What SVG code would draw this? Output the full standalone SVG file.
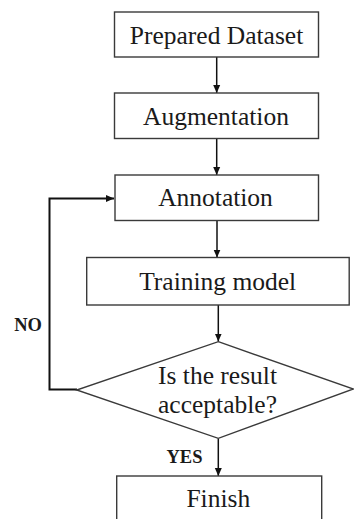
<svg xmlns="http://www.w3.org/2000/svg" width="354" height="519" viewBox="0 0 354 519">
<defs>
<style>
.box{fill:#fff;stroke:#3a3a3a;stroke-width:1.4}
.t{font-family:"Liberation Serif","Times New Roman",serif;font-size:25.5px;fill:#1a1a1a;text-anchor:middle}
.lbl{font-family:"Liberation Serif","Times New Roman",serif;font-size:18.5px;font-weight:bold;fill:#1a1a1a;text-anchor:middle}
.c{fill:none;stroke:#111;stroke-width:1.5}
.loop{fill:none;stroke:#111;stroke-width:2}
</style>
<marker id="ah" viewBox="0 0 8 8" refX="8" refY="4" markerWidth="8" markerHeight="8" markerUnits="userSpaceOnUse" orient="auto">
<path d="M0,0.5 L8,4 L0,7.5 Z" fill="#111"/>
</marker>
</defs>
<rect width="354" height="519" fill="#fff"/>
<g id="connectors">
<line class="c" x1="216.7" y1="57" x2="216.7" y2="93" marker-end="url(#ah)"/>
<line class="c" x1="216.7" y1="138.5" x2="216.7" y2="175" marker-end="url(#ah)"/>
<line class="c" x1="217" y1="220.5" x2="217" y2="257.5" marker-end="url(#ah)"/>
<line class="c" x1="218.3" y1="305" x2="218.3" y2="341.5" marker-end="url(#ah)"/>
<line class="c" x1="218.3" y1="438.5" x2="218.3" y2="476" marker-end="url(#ah)"/>
<polyline class="loop" points="77,389.5 49.5,389.5 49.5,198.5 114,198.5" marker-end="url(#ah)"/>
<text class="lbl" x="28" y="331">NO</text>
<text class="lbl" x="184.5" y="462.7">YES</text>
</g>
<g id="prepared">
<rect class="box" x="114.5" y="12" width="204" height="45"/>
<text class="t" x="216.5" y="43.5">Prepared Dataset</text>
</g>
<g id="augmentation">
<rect class="box" x="114.5" y="93" width="204" height="45.5"/>
<text class="t" x="216" y="125">Augmentation</text>
</g>
<g id="annotation">
<rect class="box" x="115" y="175" width="203.5" height="45.5"/>
<text class="t" x="215.5" y="206">Annotation</text>
</g>
<g id="training">
<rect class="box" x="86.7" y="257.5" width="262.5" height="47.5"/>
<text class="t" x="217.7" y="290">Training model</text>
</g>
<g id="decision">
<polygon class="box" points="218.3,341.7 353.5,389 218.3,438.3 76.7,390"/>
<text class="t" x="217.5" y="384">Is the result</text>
<text class="t" x="217.5" y="413.3">acceptable?</text>
</g>
<g id="finish">
<rect class="box" x="116.7" y="476" width="205" height="46"/>
<text class="t" x="218.3" y="506.7">Finish</text>
</g>
</svg>
